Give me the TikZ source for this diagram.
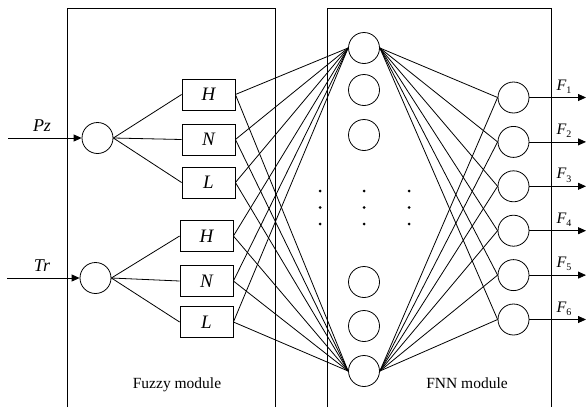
\documentclass[tikz,border=0pt]{standalone}
\usepackage{fontspec}
\setmainfont{Liberation Serif}
\usetikzlibrary{arrows.meta}
\newcommand\lowsub[1]{\raisebox{-0.45ex}{\fontsize{10}{10}\selectfont #1}}
\begin{document}
\begin{tikzpicture}[x=1pt,y=-1pt,line width=0.8pt,
  neuron/.style={draw,circle,minimum size=31pt,inner sep=0pt},
  mfbox/.style={draw,minimum width=53pt,minimum height=31pt,inner sep=0pt,font=\fontsize{19}{19}\selectfont\itshape},
  lab/.style={font=\fontsize{18}{18}\selectfont\itshape,inner sep=0pt},
  flab/.style={font=\fontsize{16}{16}\selectfont\itshape,inner sep=0pt},
  modlab/.style={font=\fontsize{15.5}{15.5}\selectfont,inner sep=0pt,anchor=base},
  arr/.style={-{Triangle[length=8pt,width=7pt]}},
  dot/.style={circle,fill,inner sep=0pt,minimum size=3pt}]
\useasboundingbox (0,0) rectangle (586,407);
% module frames
\draw (67,407) -- (67,8) -- (275,8) -- (275,407);
\draw (327,407) -- (327,8) -- (551,8) -- (551,407);
% input neurons
\node[neuron] (c1) at (97.5,138) {};
\node[neuron] (c2) at (95.5,278) {};
\coordinate (in1) at (8,138);
\coordinate (in2) at (7,278);
\draw[arr] (in1) -- (c1);
\draw[arr] (in2) -- (c2);
\node[lab] (pz) at (42,126) {Pz};
\node[lab] (tr) at (42,266) {Tr};
% fuzzy sets
\node[mfbox] (H1) at (208.5,94.5) {H};
\node[mfbox] (N1) at (208.5,139.5) {N};
\node[mfbox] (L1) at (208.5,182.5) {L};
\node[mfbox] (H2) at (206.5,236) {H};
\node[mfbox] (N2) at (206.5,281) {N};
\node[mfbox] (L2) at (206.5,322) {L};
\foreach \b in {H1,N1,L1} \draw (c1.east) -- (\b.west);
\foreach \b in {H2,N2,L2} \draw (c2.east) -- (\b.west);
% hidden layer
\node[neuron] (h1) at (364,48) {};
\node[neuron] (h2) at (364,90) {};
\node[neuron] (h3) at (364,135) {};
\node[neuron] (h4) at (364,282) {};
\node[neuron] (h5) at (364,326) {};
\node[neuron] (h6) at (364,371) {};
\foreach \x/\c in {320/a,364/b,409/c}
  \foreach \y/\r in {191/1,207.5/2,224/3}
    \node[dot] (d\c\r) at (\x,\y) {};
\foreach \b in {H1,N1,L1,H2,N2,L2} {
  \draw (\b.east) -- (h1.west);
  \draw (\b.east) -- (h6.west);
}
% output layer
\foreach \i in {1,...,6} {
  \pgfmathsetmacro\yy{97.5+44.4*(\i-1)}
  \node[neuron] (o\i) at (513.5,\yy) {};
  \coordinate (out\i) at (586,\yy);
  \draw[arr] (o\i.east) -- (out\i);
  \node[flab] (F\i) at (564,\yy-11) {F\lowsub{\upshape\i}};
  \draw (h1.east) -- (o\i.west);
  \draw (h6.east) -- (o\i.west);
}
% module labels
\node[modlab] (fz) at (177,388) {Fuzzy module};
\node[modlab] (fn) at (467,388) {FNN module};
\end{tikzpicture}
\end{document}
